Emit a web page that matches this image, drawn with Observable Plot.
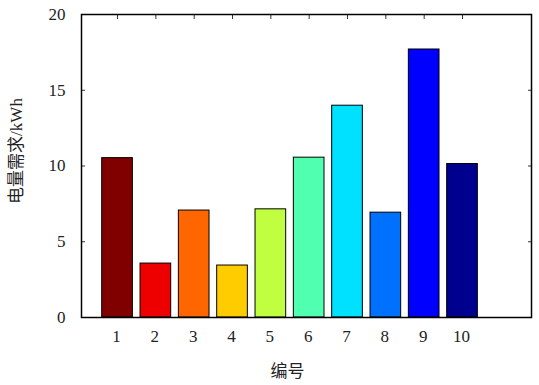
<!DOCTYPE html>
<html><head><meta charset="utf-8">
<script src="https://cdn.jsdelivr.net/npm/d3@7"></script>
<script src="https://cdn.jsdelivr.net/npm/@observablehq/plot@0.6"></script>
<style>body{margin:0;background:#fff}</style>
</head><body><div id="chart"></div>
<script>
const ids = [1, 2, 3, 4, 5, 6, 7, 8, 9, 10];
const demand = [10.52, 3.56, 7.06, 3.43, 7.14, 10.55, 13.98, 6.92, 17.69, 10.13];
const colors = ["#800000", "#ee0000", "#ff6600", "#ffcc00", "#bfff40", "#50ffb0", "#00e0ff", "#0070ff", "#0000ff", "#00008f"];
const yTicks = [0, 5, 10, 15, 20];
const xTitle = "编号";
const yTitle = "电量需求/kWh";

const data = ids.map((n, i) => ({n, v: demand[i], c: colors[i]}));
const font = "'Liberation Serif', 'Times New Roman', 'Noto Sans CJK SC', serif";

const plot = Plot.plot({
  width: 539, height: 385,
  marginLeft: 81, marginRight: 8, marginTop: 14, marginBottom: 68,
  style: {fontFamily: font, fontSize: "17px", color: "#222", background: "#fff"},
  x: {domain: [0.06, 11.8]},
  y: {domain: [0, 20]},
  marks: [
    Plot.rectY(data, {x1: d => d.n - 0.4, x2: d => d.n + 0.4, y1: 0, y2: "v", fill: "c", stroke: "#000", strokeWidth: 1}),
    Plot.axisY({ticks: yTicks, tickSize: 0, tickPadding: 16, label: null, fontSize: 17}),
    Plot.axisY({ticks: yTicks, anchor: "left", text: null, tickSize: 4, insetLeft: 4, label: null, stroke: "#333"}),
    Plot.axisY({ticks: yTicks, anchor: "right", text: null, tickSize: 4, insetRight: 4, label: null, stroke: "#333"}),
    Plot.axisX({ticks: ids, anchor: "top", text: null, tickSize: 4, insetTop: 4, label: null, stroke: "#333"}),
    Plot.axisX({ticks: ids, anchor: "bottom", tickSize: 0, tickPadding: 12, dx: -1, tickFormat: d => String(d), label: null, fontSize: 17}),
    Plot.frame({stroke: "#000", strokeWidth: 1.5}),
    Plot.text([xTitle], {text: d => d, frameAnchor: "bottom", dy: 54, dx: -19, lineAnchor: "middle", fontSize: 17, fill: "#222"}),
    Plot.text([yTitle], {text: d => d, frameAnchor: "left", textAnchor: "middle", rotate: -90, dx: -65, dy: -15, lineAnchor: "middle", fontSize: 17, fill: "#222"})
  ]
});
document.getElementById("chart").append(plot);
</script>
</body></html>
